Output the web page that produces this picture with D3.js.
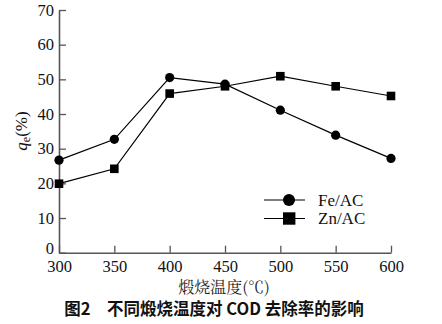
<!DOCTYPE html>
<html><head><meta charset="utf-8">
<script src="https://cdn.jsdelivr.net/npm/d3@7"></script>
<style>
body{margin:0;background:#fff}svg{display:block}
svg text.s{font-family:"Liberation Serif"}
svg text.cjk{font-family:"Noto Serif CJK SC"}
svg text.t{font-family:"Noto Sans CJK SC";font-weight:700}
</style>
</head><body>
<script>
const temps = [300, 350, 400, 450, 500, 550, 600];
const feAC = [26.7, 32.7, 50.5, 48.6, 41.1, 33.9, 27.2];
const znAC = [19.9, 24.2, 45.9, 48.0, 50.9, 48.0, 45.2];
const xTicks = [300, 350, 400, 450, 500, 550, 600];
const yTicks = [0, 10, 20, 30, 40, 50, 60, 70];
const seriesNames = ["Fe/AC", "Zn/AC"];
const xLabel = "煅烧温度(℃)";
const title = "图2　不同煅烧温度对 COD 去除率的影响";

const W = 442, H = 324;
const svg = d3.select("body").append("svg").attr("width", W).attr("height", H);
const x = d3.scaleLinear().domain([300, 600]).range([59, 391]);
const y = d3.scaleLinear().domain([0, 70]).range([252.7, 10]);
const axisColor = "#555";

// axes
const xa = svg.append("g").attr("transform", `translate(0,${y(0)})`)
  .call(d3.axisBottom(x).tickValues(xTicks).tickSizeInner(-7).tickSizeOuter(0).tickPadding(9));
const ya = svg.append("g").attr("transform", `translate(${x(300)},0)`)
  .call(d3.axisLeft(y).tickValues(yTicks).tickSizeInner(-7).tickSizeOuter(0).tickPadding(5));
[xa, ya].forEach(g => {
  g.attr("font-family", null).attr("font-size", null);
  g.select(".domain").attr("stroke", axisColor).attr("stroke-width", 1.6);
  g.selectAll(".tick line").attr("stroke", axisColor).attr("stroke-width", 1.3);
  g.selectAll(".tick text").attr("fill", "#111").attr("class", "s")
    .attr("font-family", "Liberation Serif").attr("font-size", 16.5);
});
xa.selectAll(".tick text").attr("dy", "0.6em");
ya.selectAll(".tick text").filter(d => d === 0).attr("dy", "0.05em");

// series
const line = d3.line().x((d, i) => x(temps[i])).y(d => y(d));
svg.append("path").datum(feAC).attr("d", line).attr("fill", "none").attr("stroke", "#000").attr("stroke-width", 1.2);
svg.append("path").datum(znAC).attr("d", line).attr("fill", "none").attr("stroke", "#000").attr("stroke-width", 1.2);
svg.selectAll(".fe").data(feAC).join("circle").attr("cx", (d, i) => x(temps[i])).attr("cy", d => y(d)).attr("r", 4.6).attr("fill", "#000");
svg.selectAll(".zn").data(znAC).join("rect")
  .attr("x", (d, i) => x(temps[i]) - 4.3).attr("y", d => y(d) - 4.3).attr("width", 8.6).attr("height", 8.6).attr("fill", "#000");

// legend
const lg = svg.append("g");
[200, 218.5].forEach((ly, k) => {
  lg.append("line").attr("x1", 264).attr("x2", 305).attr("y1", ly).attr("y2", ly).attr("stroke", "#000").attr("stroke-width", 1.2);
  if (k === 0) lg.append("circle").attr("cx", 289).attr("cy", ly).attr("r", 6).attr("fill", "#000");
  else lg.append("rect").attr("x", 283).attr("y", ly - 6.2).attr("width", 12.4).attr("height", 12.4).attr("fill", "#000");
  lg.append("text").attr("class", "s").attr("x", 318).attr("y", ly + 5.5).text(seriesNames[k])
    .attr("font-family", "Liberation Serif").attr("font-size", 17).attr("fill", "#111");
});

// y label
const yl = svg.append("text").attr("class", "s").attr("transform", "translate(27,131) rotate(-90)").attr("text-anchor", "middle")
  .attr("font-family", "Liberation Serif").attr("font-size", 17).attr("fill", "#111");
yl.append("tspan").text("q").attr("font-style", "italic");
yl.append("tspan").text("e").attr("dy", 3).attr("font-size", 12);
yl.append("tspan").text("(%)").attr("dy", -3);

// x label
svg.append("text").attr("class", "cjk").attr("x", 224).attr("y", 293).attr("text-anchor", "middle")
  .attr("font-family", "Noto Serif CJK SC").attr("font-size", 16).attr("fill", "#222")
  .text(xLabel);

// title
svg.append("text").attr("class", "t").attr("x", 214).attr("y", 315).attr("text-anchor", "middle")
  .attr("font-family", "Noto Sans CJK SC").attr("font-weight", 700).attr("font-size", 16.5).attr("fill", "#111")
  .text(title);
</script>
</body></html>
